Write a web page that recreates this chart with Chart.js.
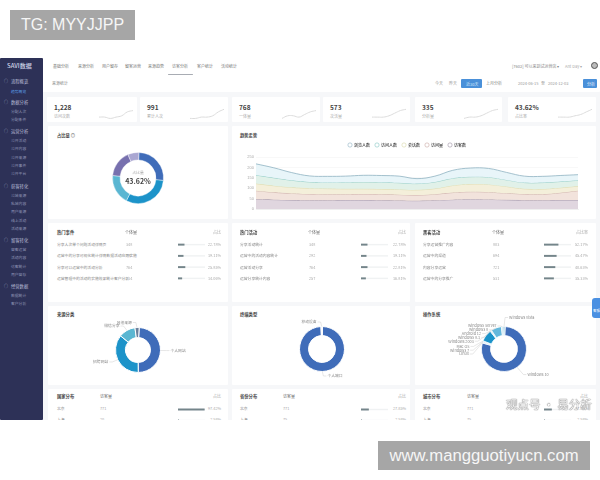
<!DOCTYPE html>
<html><head><meta charset="utf-8">
<script src="https://cdn.jsdelivr.net/npm/chart.js@4/dist/chart.umd.min.js"></script>
<style>
html,body{margin:0;padding:0;background:#fff;width:600px;height:480px;overflow:hidden;font-family:"Noto Sans CJK SC","Noto Sans",sans-serif}
#dash{position:absolute;left:0;top:0;width:600px;height:420px;clip-path:inset(58px 0 0 0);filter:blur(.6px);background:#f6f7f9;overflow:hidden}
.box{position:absolute;background:#fff;border-radius:1px}
.t{position:absolute;white-space:nowrap;transform:translateY(-50%);line-height:1;color:#777;font-size:4px}
canvas{position:absolute;display:block}
.stamp{position:absolute;background:#a6a6a6;color:#f6f6f6;font-family:"Liberation Sans",sans-serif;display:flex;align-items:center;justify-content:center;white-space:nowrap}
#wm{position:absolute;left:506px;top:399px;font-size:11.5px;line-height:1;white-space:nowrap;color:#fdfdfd;text-shadow:0 0 1px #555,0 0 1px #777}
</style></head><body>
<div id="dash"></div>
<div id="wm">观点号 · 易分析</div>
<div class="stamp" style="left:10px;top:10px;width:125px;height:30px;font-size:16px">TG: MYYJJPP</div>
<div class="stamp" style="left:378px;top:441px;width:212px;height:29px;font-size:16.7px">www.mangguotiyucn.com</div>
<script>
// ---------- data ----------
const navItems=['基础分析','来源分析','用户留存','留客运营','来源趋势','访客分析','客户统计','活动统计'];
const sideMenu=[['流程概览',['趋势概览']],['数据分析',['分配人次','分配条件']],['运营分析',['公开活动','公开内容','公开来源','公开事件','公开平台']],['获客转化',['公域来源','私域内容','用户来源','线上活动','活动来源']],['留客转化',['留客运营','活动内容','访客统计','用户留存']],['经营数据',['数据统计','客户分析']]];
const kpiValues=['1,228','991','768','573','335','43.62%'];
const kpiLabels=['访问次数','累计人次','一体量','次活量','分析量','占比率'];
const spark1=[3,3,2,3,4,7,8];
const spark2=[2,2,3,3,4,7,9];
const spark3=[2,4,4,3,5,7,8];
const spark4=[3,3,3,4,6,8,9];
const spark5=[2,3,3,4,6,8,9];
const spark6=[3,3,3,4,5,7,9];
const dates=['2024-06-11','2024-06-12','2024-06-13','2024-06-14','2024-06-15','2024-06-16','2024-06-17','2024-06-18','2024-06-19','2024-06-20','2024-06-21','2024-06-22','2024-06-23','2024-06-24','2024-06-25','2024-06-26','2024-06-27','2024-06-28','2024-06-29'];
const seriesNames=['浏览人数','访问人数','会话数','访问量','访客数'];
const seriesA=[217,198,175,159,157,158,162,161,158,146,158,186,197,195,176,158,157,161,165];
const seriesB=[163,150,138,130,128,129,130,129,126,122,130,148,155,153,140,127,127,132,138];
const seriesC=[122,112,104,100,98,97,97,96,94,92,98,113,120,118,108,97,96,102,110];
const seriesD=[88,80,75,72,71,71,72,71,69,67,71,79,83,81,76,72,71,78,88];
const seriesE=[47,45,43,42,42,43,43,42,41,40,42,45,47,46,44,42,42,43,43];
const shareNames=['类型一','类型二','类型三','类型四','类型五'];
const shareValues=[26,31,19,17,7];
const sourceNames=['个人网站','招聘网站','微信分享','其他来源'];
const sourceValues=[49,36,12,3];
const deviceNames=['个人端口','移动设备'];
const deviceValues=[99,1];
const osNames=['Windows 10','Linux','Windows 7','Mac OS','Windows 2003','Windows 8.1','Android 12','Windows 8','Windows Server','Windows Vista'];
const osValues=[73,.5,.5,.5,8,.5,.5,7,1,1.5];
const hotNames=['分享人次单个问题活动详情页','运营中的分享可视化统计详情数据活动应用实施','分享可以运营中的活动分析','运营管理中的活动的实施效果统计客户分析'];
const hotCounts=['348','292','764','214'];
const hotPct=[22.78,19.11,25.85,14.06];
const eventNames=['分享活动统计','运营中的活动内容统计','运营活动分享','运营分享统计内容'];
const eventCounts=['348','292','764','257'];
const eventPct=[22.78,19.11,22.81,16.81];
const channelNames=['分享运营推广内容','运营中的渠道','内容分享运营','运营中的分享推广'];
const channelCounts=['803','694','721','531'];
const channelPct=[52.17,45.47,40.63,35.33];
const regionNames=['北京','上海'];
const regionPct=[97.42,2.58];
const cityNames=['北京','上海'];
const cityPct=[27.85,2.58];
const provinceNames=['北京','上海'];
const provinceCounts=['771','75'];
const provincePct=[27.85,2.58];

// ---------- helpers ----------
Chart.defaults.animation=false;
Chart.defaults.responsive=false;
const dash=document.getElementById('dash');
function box(x,y,w,h,bg){const d=document.createElement('div');d.className='box';d.style.cssText=`left:${x}px;top:${y}px;width:${w}px;height:${h}px;`+(bg?`background:${bg};`:'');dash.appendChild(d);return d;}
function t(s,x,y,css){const d=document.createElement('div');d.className='t';d.textContent=s;d.style.cssText=`left:${x}px;top:${y}px;`+(css||'');dash.appendChild(d);return d;}
function tr(s,x,y,css){const d=t(s,x,y,css);d.style.left='auto';d.style.right=(600-x)+'px';return d;}
function cv(x,y,w,h){const c=document.createElement('canvas');c.width=w;c.height=h;c.style.cssText=`left:${x}px;top:${y}px;width:${w}px;height:${h}px`;dash.appendChild(c);return c;}

// ---------- frame ----------
box(0,58,600,34);
box(0,58,43,362,'#2d3157');
t('SAVI数据',7,66,'color:#cfd4e8;font-size:6px;font-weight:500');
const sideGroupY=[81,102,131,186,240,286];
const sideSubY=[[92],[112,120],[141,149,158,166,174],[196,204,212,221,229],[250,258,267,275],[296,304]];
sideMenu.forEach((g,i)=>{
  t('○',4,sideGroupY[i],'color:#a9aecb;font-size:4px');
  t(g[0],11,sideGroupY[i],'color:#b9bdd6;font-size:4.3px');
  g[1].forEach((s,j)=>t(s,11,sideSubY[i][j],'font-size:3.8px;color:'+(i===0?'#5b9ee8':'#8f94b5')));
});
const navX=[53,78,102,125,148,172,197,221];
navItems.forEach((n,i)=>t(n,navX[i],66,'font-size:4px;color:#777'));
box(168,74,25,1,'#a8acb3');
t('来源统计',52,83,'font-size:4px;color:#888');
t('[7602] 可以来到试运营店 ▾',512,66,'font-size:4px;color:#888');
t('Ant Day ▾',565,66,'font-size:4px;color:#aaa');
const av=box(591,62,7,7,'#bbb');av.style.border='1.2px solid #555';av.style.borderRadius='50%';av.style.boxSizing='border-box';
t('今天',435,83,'color:#999');t('昨天',449,83,'color:#999');
box(461,79,21,9,'#4a90d9');t('近30天',466,83.5,'color:#dcebfa');
t('上月分析',486,83,'color:#888');
t('2024-06-15',518,83,'color:#999');t('至',541,83,'color:#999');t('2024-12-03',548,83,'color:#999');
box(583,79,14,9,'#4a90d9');t('分析',587,83.5,'color:#e8f2fc');

// ---------- KPI cards ----------
const kpiX=[47,140,232,323,415,508];
const kpiW=[90,88,88,87,87,88];
const sparks=[spark1,spark2,spark3,spark4,spark5,spark6];
kpiValues.forEach((v,i)=>{
  box(kpiX[i],97,kpiW[i],25);
  t(v,kpiX[i]+7,107,'font-size:6.5px;font-weight:700;color:#444');
  t(kpiLabels[i],kpiX[i]+7,115.5,'color:#aaa');
  new Chart(cv(kpiX[i]+kpiW[i]-38,108,34,13),{type:'line',data:{labels:sparks[i].map((_,k)=>k),datasets:[{data:sparks[i],borderColor:'#dcdcdc',borderWidth:1,pointRadius:0,tension:.45}]},options:{plugins:{legend:{display:false},tooltip:{enabled:false}},scales:{x:{display:false},y:{display:false,min:0,max:10}}}});
});

// ---------- cards ----------
box(48,126,180,93);box(232,126,364,93);
box(48,223,180,79);box(232,223,178,79);box(415,223,181,79);
box(48,306,180,79);box(232,306,178,79);box(415,306,181,79);
box(48,389,180,40);box(232,389,178,40);box(415,389,181,40);

const dark='font-size:4.3px;font-weight:700;color:#444';
t('占比量 ◎',57,134.5,dark);
t('趋势走势',240,134.5,dark);
t('来源分类',57,314,dark);t('终端类型',240,314,dark);t('操作系统',423,314,dark);

// ---------- doughnuts ----------
const leader={id:'leader',afterDatasetsDraw(chart,_a,opt){
  if(!opt.show)return;
  const {ctx}=chart;const arcs=chart.getDatasetMeta(0).data;const labels=chart.data.labels;
  const items=arcs.map((a,i)=>{const p=a.getProps(['x','y','startAngle','endAngle','outerRadius'],true);const m=(p.startAngle+p.endAngle)/2;return{i,m,p,sx:p.x+Math.cos(m)*p.outerRadius,sy:p.y+Math.sin(m)*p.outerRadius,side:Math.cos(m)>=0?1:-1,y:p.y+Math.sin(m)*(p.outerRadius+opt.gap)};});
  [-1,1].forEach(side=>{
    const g=items.filter(o=>o.side===side).sort((a,b)=>a.y-b.y);
    for(let k=1;k<g.length;k++)if(g[k].y-g[k-1].y<opt.step)g[k].y=g[k-1].y+opt.step;
    if(side===-1&&opt.midOffset!==undefined){const sh=(g[0].y+g[g.length-1].y)/2-(g[0].p.y+opt.midOffset);g.forEach(o=>o.y-=sh);}
    g.forEach(o=>{
      const ex=o.sx+side*opt.gap*Math.abs(Math.cos(o.m))+side*1;const tx=ex+side*3;
      ctx.strokeStyle='#cfcfcf';ctx.lineWidth=.5;ctx.beginPath();ctx.moveTo(o.sx,o.sy);ctx.lineTo(ex,o.y);ctx.lineTo(tx,o.y);ctx.stroke();
      ctx.fillStyle='#888';ctx.font='3.8px "Noto Sans CJK SC","Noto Sans",sans-serif';ctx.textAlign=side>0?'left':'right';ctx.textBaseline='middle';
      ctx.fillText(labels[o.i],tx+side*1,o.y);
    });
  });
}};
function donut(cx,cy,w,h,outer,inner,names,values,colors,rot,leaderOpt,bw){
  return new Chart(cv(cx-w/2,cy-h/2,w,h),{type:'doughnut',plugins:[leader],data:{labels:names,datasets:[{data:values,backgroundColor:colors,borderColor:'#fff',borderWidth:bw}]},
    options:{radius:outer,cutout:(inner/outer*100)+'%',rotation:rot,plugins:{legend:{display:false},tooltip:{enabled:false},leader:leaderOpt||{show:false}}}});
}
donut(138,178,60,60,25.5,18,shareNames,shareValues,['#3f6cb9','#1c93c9','#5ab6d2','#7770ae','#aaa7d2'],2,null,.4);
t('占比量',138,173,'transform:translate(-50%,-50%);color:#aaa;font-size:3.8px');
t('43.62%',138,181,'transform:translate(-50%,-50%);font-size:7px;font-weight:700;color:#444');
donut(138,350,170,76,22.5,12.5,sourceNames,sourceValues,['#3f6cb9','#1c93c9','#5ab6d2','#6a7f9c'],3,{show:true,gap:5,step:3.5},1);
donut(322,349,170,76,22.5,13.5,deviceNames,deviceValues,['#3f6cb9','#f2f4f7'],1,{show:true,gap:4.5,step:4},1);
donut(504,349,176,76,22.5,13.5,osNames,osValues,['#3f6cb9','#6fa8d8','#4a8fd0','#2f7fc4','#1c93c9','#3a9fd2','#5ab6d2','#63b8dc','#8ec8e0','#a9d3e6'],3,{show:true,gap:9,step:3.8,midOffset:-9},.8);

// ---------- trend chart ----------
const lineCols=['#8fb2c2','#86c6c2','#d9d8a8','#c9a8a2','#9b8ea2'];
const fillCols=['#e8f5f9','#e1f1e9','#f4efda','#f2e3dc','#e0d6df'];
const trendSets=[seriesA,seriesB,seriesC,seriesD,seriesE];
new Chart(cv(236,138,360,80),{type:'line',data:{labels:dates,datasets:trendSets.map((d,i)=>({label:seriesNames[i],data:d,borderColor:lineCols[i],backgroundColor:fillCols[i],borderWidth:.8,pointRadius:0,tension:.4,fill:i<4?'+1':'origin',pointStyle:'circle'}))},
 options:{layout:{padding:{right:18}},plugins:{tooltip:{enabled:false},legend:{position:'top',align:'center',labels:{usePointStyle:true,pointStyle:'circle',boxWidth:4,boxHeight:3,padding:5,color:'#888',font:{size:4,family:'"Noto Sans CJK SC"'},
   generateLabels:c=>c.data.datasets.map((d,i)=>({text:d.label,fillStyle:'#fff',strokeStyle:d.borderColor,lineWidth:.6,pointStyle:'circle',datasetIndex:i}))}}},
 scales:{x:{grid:{display:false},border:{color:'#e4e4e4',width:.5},ticks:{color:'#aaa',font:{size:4},maxRotation:0,autoSkip:false,padding:1,callback(v,i){return i%3===0?this.getLabelForValue(v):'';}},afterFit(s){s.height=9;}},
  y:{min:0,max:250,afterFit(s){s.width=20;},grid:{color:'#f1f1f1',lineWidth:.5,drawTicks:false},border:{display:false},ticks:{stepSize:50,color:'#aaa',font:{size:4},padding:2}}}}});

// ---------- tables ----------
function table(title,col2,col3,names,counts,pct,xs,y0,rowH,head){
  t(title,xs.name,y0,dark);
  t(col2,xs.col2,y0,'font-size:4px;color:#666');
  tr(col3,xs.pct,y0,'color:#aaa');
  names.forEach((n,i)=>{
    const y=y0+head+i*rowH;
    t(n,xs.name,y,'font-size:3.8px;color:#888');
    t(counts[i],xs.count,y,'font-size:3.8px;color:#aaa');
    tr(pct[i].toFixed(2)+'%',xs.pct,y,'font-size:3.8px;color:#aaa');
  });
  new Chart(cv(xs.bar,y0+head-rowH/2,27,Math.round(rowH*names.length)),{type:'bar',data:{labels:names,datasets:[
    {data:pct,backgroundColor:'#74858a',barThickness:1.3,order:1},
    {data:names.map(()=>100),backgroundColor:'#f0f2f3',barThickness:.8,order:2}]},
   options:{indexAxis:'y',plugins:{legend:{display:false},tooltip:{enabled:false}},datasets:{bar:{grouped:false}},scales:{x:{display:false,min:0,max:100},y:{display:false}}}});
}
table('热门事件','个体量','占比',hotNames,hotCounts,hotPct,{name:57,col2:125,count:126,bar:178,pct:221},232,11.3,13);
table('热门活动','个体量','占比',eventNames,eventCounts,eventPct,{name:240,col2:308,count:309,bar:361,pct:406},232,11.3,13);
table('黑客活动','个体量','占比率',channelNames,channelCounts,channelPct,{name:423,col2:492,count:493,bar:544,pct:588},232,11.3,13);
table('国家分布','访客量','占比',regionNames,['771','20'],regionPct,{name:57,col2:100,count:100,bar:178,pct:221},396,11,13);
table('省份分布','访客量','占比',cityNames,['771','75'],cityPct,{name:240,col2:283,count:283,bar:361,pct:406},396,11,13);
table('城市分布','访客量','占比',provinceNames,provinceCounts,provincePct,{name:423,col2:467,count:467,bar:544,pct:588},396,11,13);

// ---------- floating ----------
const fb=box(592,298,8,20,'#4a90e2');fb.style.borderRadius='3px 0 0 3px';
t('客服',593,311,'color:#fff;font-size:3.5px');
</script>
</body></html>
